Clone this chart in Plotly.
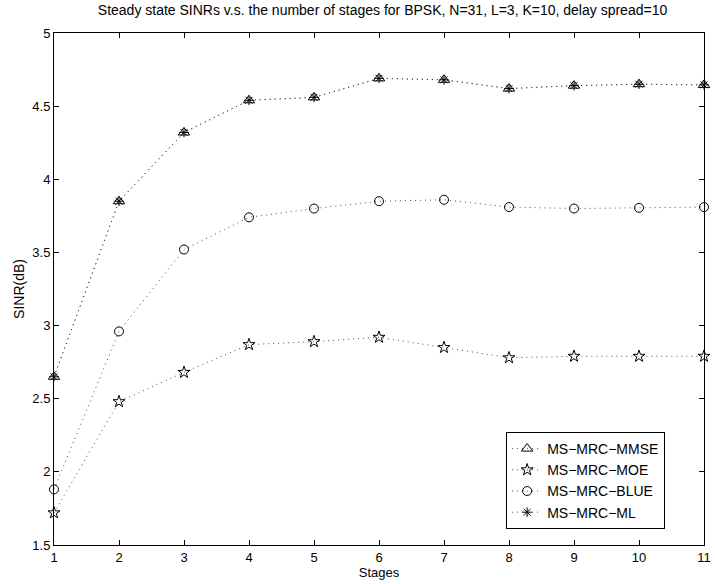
import plotly.graph_objects as go

stages = [1, 2, 3, 4, 5, 6, 7, 8, 9, 10, 11]
mmse = [2.65, 3.85, 4.32, 4.54, 4.56, 4.69, 4.68, 4.62, 4.64, 4.65, 4.645]
moe = [1.72, 2.48, 2.68, 2.87, 2.89, 2.92, 2.85, 2.78, 2.79, 2.79, 2.79]
blue = [1.88, 2.96, 3.52, 3.74, 3.80, 3.85, 3.86, 3.81, 3.80, 3.805, 3.81]
ml = [2.65, 3.85, 4.32, 4.54, 4.56, 4.69, 4.68, 4.62, 4.64, 4.65, 4.645]

series = [
    ("MS\u2212MRC\u2212MMSE", mmse, "triangle-up-open", 10),
    ("MS\u2212MRC\u2212MOE", moe, "star-open", 9),
    ("MS\u2212MRC\u2212BLUE", blue, "circle-open", 9),
    ("MS\u2212MRC\u2212ML", ml, "asterisk-open", 8),
]

fig = go.Figure()
for name, ys, sym, sz in series:
    fig.add_trace(go.Scatter(
        x=stages, y=ys, name=name, mode="lines+markers",
        line=dict(color="#222222", width=0.8, dash="1px,4px"),
        marker=dict(symbol=sym, size=sz, color="black", line=dict(color="black", width=1)),
        cliponaxis=False,
    ))

font = "Liberation Sans, Arial, sans-serif"
fig.update_layout(
    width=715, height=584,
    margin=dict(l=54, r=4, t=33, b=39),
    paper_bgcolor="white", plot_bgcolor="white",
    font=dict(family=font, size=13, color="black"),
    title=dict(text="Steady state SINRs v.s. the number of stages for BPSK, N=31, L=3, K=10, delay spread=10",
               x=0.535, xanchor="center", y=0.983, yanchor="middle",
               font=dict(size=14, family=font, color="black")),
    showlegend=True,
    legend=dict(x=0.6956, y=0.2207, xanchor="left", yanchor="top",
                bordercolor="black", borderwidth=1, bgcolor="white",
                font=dict(size=14, family=font), tracegroupgap=0,
                itemwidth=30),
)
fig.update_xaxes(
    range=[1, 11], tickvals=stages, ticktext=[str(s) for s in stages],
    showline=True, linecolor="black", linewidth=1, mirror="ticks",
    ticks="inside", ticklen=5, tickcolor="black",
    showgrid=False, zeroline=False, ticklabeloverflow="allow",
    title=dict(text="Stages", standoff=4, font=dict(size=13)),
    tickfont=dict(size=13),
)
fig.update_yaxes(
    range=[1.5, 5], tickvals=[1.5, 2, 2.5, 3, 3.5, 4, 4.5, 5],
    ticktext=["1.5", "2", "2.5", "3", "3.5", "4", "4.5", "5"],
    showline=True, linecolor="black", linewidth=1, mirror="ticks",
    ticks="inside", ticklen=5, tickcolor="black",
    showgrid=False, zeroline=False,
    title=dict(text="SINR(dB)", standoff=4, font=dict(size=14)),
    tickfont=dict(size=13),
)
fig.write_html("out.html")
